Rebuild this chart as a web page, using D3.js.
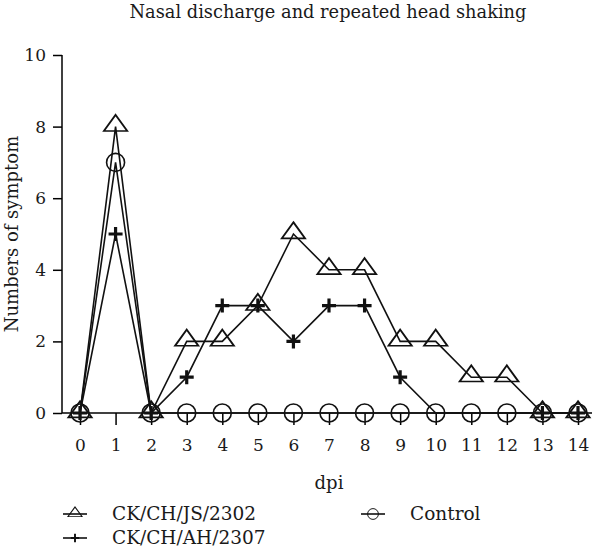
<!DOCTYPE html>
<html>
<head>
<meta charset="utf-8">
<script src="https://cdn.jsdelivr.net/npm/d3@7"></script>
<style>
  body { margin: 0; background: #fff; }
  text { font-family: "DejaVu Serif", "Liberation Serif", serif; fill: #1a1a1a; }
</style>
</head>
<body>
<div id="chart"></div>
<script>
const days = [0, 1, 2, 3, 4, 5, 6, 7, 8, 9, 10, 11, 12, 13, 14];
const js2302 = [0, 8, 0, 2, 2, 3, 5, 4, 4, 2, 2, 1, 1, 0, 0];
const ah2307 = [0, 5, 0, 1, 3, 3, 2, 3, 3, 1, 0, 0, 0, 0, 0];
const control = [0, 7, 0, 0, 0, 0, 0, 0, 0, 0, 0, 0, 0, 0, 0];
// days where the AH/2307 marker is not drawn in the original
const ah2307NoMarker = [10, 11, 12];
const yTicks = [0, 2, 4, 6, 8, 10];

const w = 600;
const h = 549;
const axisX = 62;
const axisEnd = 592;

const svg = d3.select('#chart')
              .append('svg')
              .attr('width', w)
              .attr('height', h);

const xScale = d3.scaleLinear()
                 .domain([0, 14])
                 .range([80, 578]);

const yScale = d3.scaleLinear()
                 .domain([0, 10])
                 .range([413, 55]);

// title
svg.append('text')
   .attr('x', 328)
   .attr('y', 18)
   .attr('text-anchor', 'middle')
   .style('font-size', '17.8px')
   .text('Nasal discharge and repeated head shaking');

// y axis
const yAxis = d3.axisLeft(yScale)
                .tickValues(yTicks)
                .tickSize(9)
                .tickPadding(7)
                .tickSizeOuter(0);

const gy = svg.append('g')
   .attr('transform', 'translate(' + axisX + ', 0)')
   .call(yAxis);
gy.select('.domain').attr('stroke-width', 1.5).attr('d', 'M0,' + yScale(0) + 'V' + yScale(10));
gy.selectAll('.tick line').attr('stroke-width', 1.5);
gy.selectAll('.tick text')
  .style('font-size', '17px')
  .attr('font-family', null);

// x axis
const xAxis = d3.axisBottom(xScale)
                .tickValues(days)
                .tickSize(12)
                .tickPadding(14)
                .tickSizeOuter(0);

const gx = svg.append('g')
   .attr('transform', 'translate(0,' + yScale(0) + ')')
   .call(xAxis);
gx.select('.domain').attr('stroke-width', 1.5).attr('d', 'M' + axisX + ',0H' + axisEnd);
gx.selectAll('.tick line').attr('stroke-width', 1.5);
gx.selectAll('.tick text')
  .style('font-size', '17px')
  .attr('font-family', null);

// axis labels
svg.append('text')
   .attr('x', 329)
   .attr('y', 489)
   .attr('text-anchor', 'middle')
   .style('font-size', '18px')
   .text('dpi');

svg.append('text')
   .attr('transform', 'translate(18,' + yScale(5) + ') rotate(-90)')
   .attr('text-anchor', 'middle')
   .style('font-size', '18px')
   .text('Numbers of symptom');

// series
const line = d3.line()
               .x((d, i) => xScale(days[i]))
               .y((d) => yScale(d));

const triangle = d3.symbol().type(d3.symbolTriangle).size(150);

function drawSeries(values, kind, skip) {
  svg.append('path')
     .datum(values)
     .attr('d', line)
     .attr('fill', 'none')
     .attr('stroke', '#111')
     .attr('stroke-width', 1.6);

  const pts = svg.append('g')
     .selectAll('g')
     .data(values.map((v, i) => ({ day: days[i], v: v })).filter((d) => !skip.includes(d.day)))
     .enter()
     .append('g')
     .attr('transform', (d) => 'translate(' + xScale(d.day) + ',' + yScale(d.v) + ')');
  drawMarker(pts, kind);
}

function drawMarker(sel, kind) {
  if (kind === 'tri') {
    sel.append('path')
       .attr('d', triangle)
       .attr('transform', 'translate(0,-1) scale(1.25,1)')
       .attr('fill', 'none')
       .attr('stroke', '#111')
       .attr('stroke-width', 1.6);
  } else if (kind === 'circ') {
    sel.append('circle')
       .attr('r', 9)
       .attr('fill', 'none')
       .attr('stroke', '#111')
       .attr('stroke-width', 1.6);
  } else {
    sel.append('path')
       .attr('d', 'M-7,0H7M0,-7V7')
       .attr('stroke', '#111')
       .attr('stroke-width', 3.2);
  }
}

drawSeries(js2302, 'tri', []);
drawSeries(control, 'circ', []);
drawSeries(ah2307, 'plus', ah2307NoMarker);

// legend
const legendItems = [
  { name: 'CK/CH/JS/2302', kind: 'tri', x: 63, y: 514 },
  { name: 'CK/CH/AH/2307', kind: 'plus', x: 63, y: 538 },
  { name: 'Control', kind: 'circ', x: 361, y: 514 }
];

legendItems.forEach(function (item) {
  const g = svg.append('g').attr('transform', 'translate(' + item.x + ',' + item.y + ')');
  g.append('line')
   .attr('x1', 0).attr('x2', 24)
   .attr('stroke', '#111')
   .attr('stroke-width', 1.6);
  const m = g.append('g').attr('transform', 'translate(12,0) scale(0.6)');
  drawMarker(m, item.kind);
  g.append('text')
   .attr('x', 49)
   .attr('dy', '0.35em')
   .style('font-size', '18.5px')
   .text(item.name);
});
</script>
</body>
</html>
